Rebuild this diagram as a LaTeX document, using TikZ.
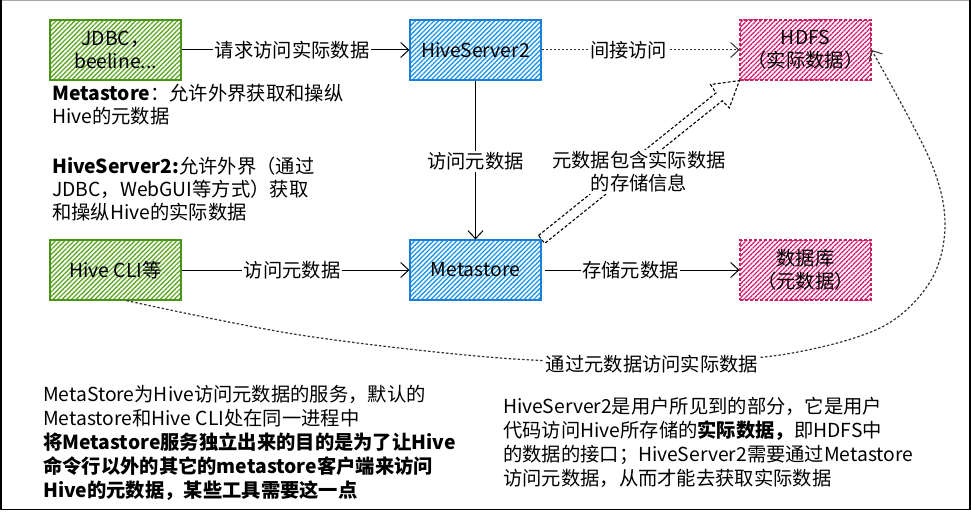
\documentclass[tikz,border=0pt]{standalone}
\usepackage{fontspec}
\setmainfont{Noto Sans CJK SC}
\usetikzlibrary{arrows.meta,patterns.meta,calc}
\definecolor{gstroke}{HTML}{4A9418}
\definecolor{ghatch}{HTML}{5FA82A}
\definecolor{bstroke}{HTML}{1C7ED6}
\definecolor{bhatch}{HTML}{2196E6}
\definecolor{pstroke}{HTML}{C2255C}
\definecolor{phatch}{HTML}{D6247A}
\definecolor{dgray}{HTML}{333333}
\begin{document}
\begin{tikzpicture}[x=1pt,y=-1pt,
  font=\fontsize{19.3}{23}\selectfont,
  box/.style={minimum width=131pt, minimum height=60pt, inner sep=0pt, align=center, line width=1.2pt},
  hatch/.style={pattern={Lines[angle=45,distance=3.3pt,line width=1.35pt]}},
  gbox/.style={box, draw=gstroke, hatch, pattern color=ghatch},
  bbox/.style={box, draw=bstroke, hatch, pattern color=bhatch},
  pbox/.style={box, draw=pstroke, dash pattern=on 3pt off 2pt, hatch, pattern color=phatch},
  lbl/.style={fill=white, inner sep=1.5pt},
  ln/.style={anchor=west, inner sep=0pt, text height=0.88em, text depth=0.12em},
  arr/.style={line width=1pt, -{Straight Barb[length=8pt,width=15pt,line width=1pt]}},
  darr/.style={line width=1pt, dgray, dash pattern=on 2pt off 2pt, -{Straight Barb[length=8pt,width=15pt,line width=1pt,sep=0pt]}},
  hollow/.style={line width=1.1pt, black, dash pattern=on 3pt off 2pt, line join=miter},
  curv/.style={line width=1.2pt, dgray, dash pattern=on 2.5pt off 2pt, -{Straight Barb[length=8pt,width=15pt,line width=1pt]}},
]
\useasboundingbox (0,0) rectangle (971,511);
% frame
\draw[gray!70, line width=1pt] (0,0.5) -- (970,0.5);
\draw[black, line width=1.5pt] (0.75,0) -- (0.75,509.5);
\draw[black, line width=1.5pt] (0,509.5) -- (970,509.5);
\draw[black, line width=2pt] (969.5,0) -- (969.5,510);

% boxes
\node[gbox] (jdbc) at (115.5,50) {JDBC，\\beeline...};
\node[bbox] (hs2) at (475.5,50) {HiveServer2};
\node[pbox] (hdfs) at (805.5,50) {HDFS\\（实际数据）};
\node[gbox] (cli) at (115.5,270) {Hive CLI等};
\node[bbox] (ms) at (475.5,270) {Metastore};
\node[pbox] (db) at (805.5,270) {数据库\\（元数据）};

% connectors
\draw[arr] (jdbc) -- node[lbl, pos=0.485] {请求访问实际数据} (hs2);
\draw[darr] (hs2) -- node[lbl, pos=0.44, text=black] {间接访问} (hdfs);
\draw[arr] (hs2) -- node[lbl, pos=0.51] {访问元数据} (ms);
\draw[arr] (cli) -- node[lbl, pos=0.485] {访问元数据} (ms);
\draw[arr, shorten <=3pt] (ms) -- node[lbl, pos=0.45] {存储元数据} (db);

% hollow dashed arrow
\coordinate (A) at (ms.north east);
\coordinate (B) at (hdfs.south west);
\coordinate (H) at ($(B)!25pt!(A)$);
\coordinate (I) at ($(B)!26pt!(A)$);
\draw[hollow] ($(A)!5pt!90:(B)$) -- ($(I)!5pt!-90:(A)$) -- ($(H)!15pt!-90:(A)$) -- (B)
  -- ($(H)!15pt!90:(A)$) -- ($(I)!5pt!90:(A)$) -- ($(A)!5pt!-90:(B)$) -- cycle;
\node[fill=white, inner sep=2pt, align=center] (info) at (639,172) {元数据包含实际数据\\的存储信息};

% dotted curve
\draw[curv] plot[smooth, tension=0.55] coordinates {([xshift=11pt]cli.south) (300,335) (500,358) (650,362) (780,355) (880,328) (930,282) (945,225) (930,160) (hdfs.east)};
\node[lbl] (via) at (652,364) {通过元数据访问实际数据};

% left text blocks
\node[ln] (ta) at (52,97) {\textbf{Metastore}：允许外界获取和操纵};
\node[ln] (tb) at (52,120) {Hive的元数据};
\node[ln] (tc) at (52,170) {\textbf{HiveServer2:}允许外界（通过};
\node[ln] (td) at (52,193) {JDBC，WebGUI等方式）获取};
\node[ln] (te) at (52,216) {和操纵Hive的实际数据};

% bottom-left block
\node[ln] (ba) at (43,398) {MetaStore为Hive访问元数据的服务，默认的};
\node[ln] (bb) at (43,422) {Metastore和Hive CLI处在同一进程中};
\node[ln] (bc) at (43,446) {\textbf{将Metastore服务独立出来的目的是为了让Hive}};
\node[ln] (bd) at (43,470) {\textbf{命令行以外的其它的metastore客户端来访问}};
\node[ln] (be) at (43,494) {\textbf{Hive的元数据，某些工具需要这一点}};

% bottom-right block
\node[ln] (ra) at (503,410) {HiveServer2是用户所见到的部分，它是用户};
\node[ln] (rb) at (503,434) {代码访问Hive所存储的\textbf{实际数据，}即HDFS中};
\node[ln] (rc) at (503,458) {的数据的接口；HiveServer2需要通过Metastore};
\node[ln] (rd) at (503,482) {访问元数据，从而才能去获取实际数据};
\end{tikzpicture}
\end{document}
